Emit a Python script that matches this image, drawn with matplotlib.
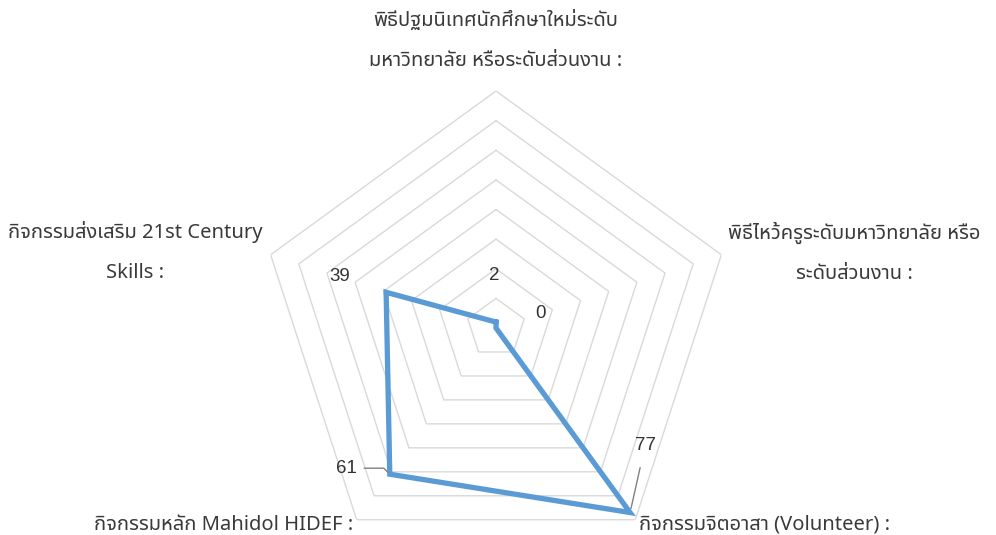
import numpy as np
import matplotlib
matplotlib.use('Agg')
import matplotlib.pyplot as plt
from matplotlib import font_manager as fm


# data
categories = ['พิธีปฐมนิเทศนักศึกษาใหม่ระดับ\nมหาวิทยาลัย หรือระดับส่วนงาน :',
              'พิธีไหว้ครูระดับมหาวิทยาลัย หรือ\nระดับส่วนงาน :',
              'กิจกรรมจิตอาสา (Volunteer) :',
              'กิจกรรมหลัก Mahidol HIDEF :',
              'กิจกรรมส่งเสริม 21st Century\nSkills :']
values = [2, 0, 77, 61, 39]
ring_levels = [10, 20, 30, 40, 50, 60, 70, 80]


# look for an installed font that has Thai glyphs
def find_thai_font():
    try:
        from fontTools.ttLib import TTFont
    except ImportError:
        return None
    prefer = ['Noto Sans Thai', 'Noto Sans Thai UI', 'Sarabun', 'Prompt', 'Kanit',
              'Loma', 'Garuda', 'Waree', 'Umpush', 'Laksaman', 'Norasi', 'Kinnari']
    found = []
    for f in fm.fontManager.ttflist:
        try:
            tt = TTFont(f.fname, fontNumber=0, lazy=True)
            cmap = tt.getBestCmap()
            if cmap and 0x0E01 in cmap:
                found.append(f.name)
        except Exception:
            pass
    for p in prefer:
        if p in found:
            return p
    return found[0] if found else None


thai = find_thai_font()
families = ([thai] if thai else []) + ['Noto Sans', 'DejaVu Sans']
plt.rcParams['font.family'] = families

text_color = '#3a3a3a'
line_color = '#5b9bd5'
grid_color = '#d9d9d9'

fig = plt.figure(figsize=(9.96, 5.35), dpi=100)
# centre at (496, 328) px, outer ring radius 237 px
cx, cy, R = 496 / 996, (535 - 328) / 535, 237
ax = fig.add_axes([cx - R / 996, cy - R / 535, 2 * R / 996, 2 * R / 535], projection='polar')
ax.set_theta_offset(np.pi / 2)
ax.set_theta_direction(-1)
ax.set_ylim(0, 80)
ax.grid(False)
ax.set_xticks([])
ax.set_yticks([])
ax.spines['polar'].set_visible(False)
ax.patch.set_alpha(0)

n = len(categories)
angles = np.linspace(0, 2 * np.pi, n, endpoint=False)
closed = np.append(angles, angles[0])

# pentagon grid
for lev in ring_levels:
    ax.plot(closed, [lev] * (n + 1), color=grid_color, lw=1, zorder=1)

# series
ax.plot(closed, values + values[:1], color=line_color, lw=3.8, zorder=3,
        solid_joinstyle='miter')

# category labels
label_pos = [(97, 'center', 'center'), (82.5, 'left', 'center'), (82, 'left', 'center'),
             (82, 'right', 'center'), (83, 'right', 'center')]
for ang, lab, (r, ha, va) in zip(angles, categories, label_pos):
    ax.text(ang, r, lab, ha=ha, va=va, multialignment='center', fontsize=14.5,
            color=text_color, linespacing=2.35, clip_on=False)

# data labels (pixel offsets from the point)
offsets = [(-2, 47), (44, 15), (15, 67), (-43, 6), (-46, 16)]
for i, (ang, v, off) in enumerate(zip(angles, values, offsets)):
    props = None
    if i == 2:
        props = dict(arrowstyle='-', color='#808080', lw=1, shrinkA=8, shrinkB=3)
    elif i == 3:
        props = dict(arrowstyle='-', color='#808080', lw=1, shrinkA=3, shrinkB=2,
                     connectionstyle='angle,angleA=0,angleB=135,rad=0')
    ax.annotate(str(v), xy=(ang, v), xytext=off, textcoords='offset pixels',
                ha='center', va='center', fontsize=13.5, color='#333333',
                family=['Liberation Sans', 'DejaVu Sans'], arrowprops=props,
                annotation_clip=False, zorder=4)

fig.savefig('out.png', dpi=100)
